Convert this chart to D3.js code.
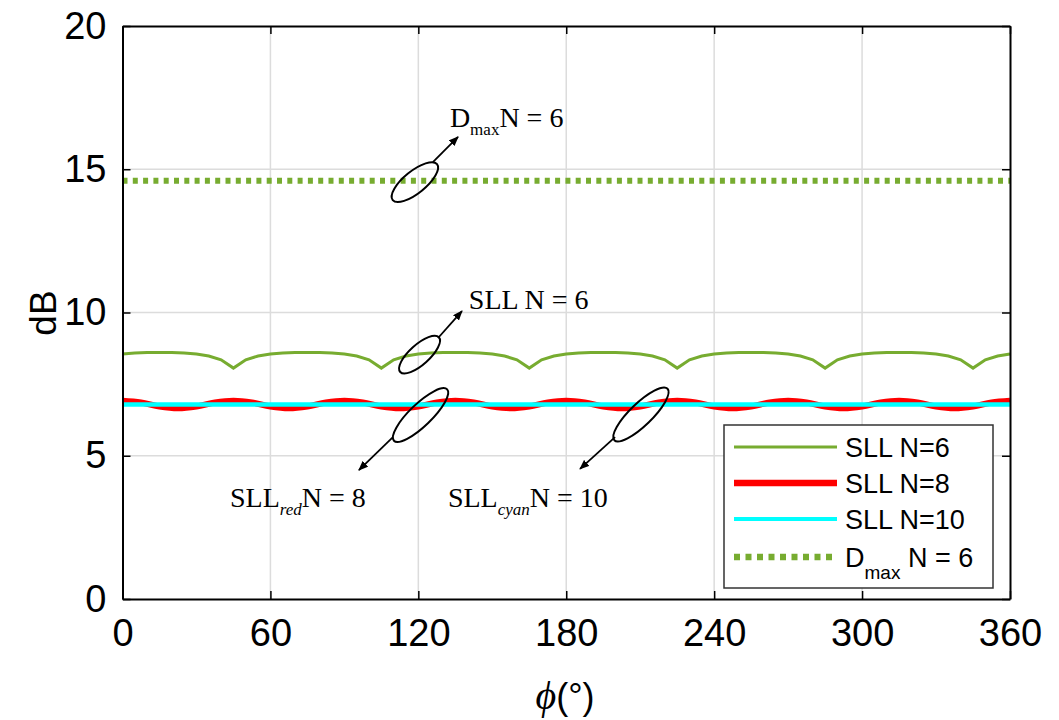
<!DOCTYPE html>
<html>
<head>
<meta charset="utf-8">
<script src="https://cdn.jsdelivr.net/npm/d3@7"></script>
<style>
  body { margin: 0; background: #fff; }
  svg { display: block; }
</style>
</head>
<body>
<script>
const phi = [0,5,10,15,20,25,30,35,40,45,50,55,60,65,70,75,80,85,90,95,100,105,110,115,120,125,130,135,140,145,150,155,160,165,170,175,180,185,190,195,200,205,210,215,220,225,230,235,240,245,250,255,260,265,270,275,280,285,290,295,300,305,310,315,320,325,330,335,340,345,350,355,360]
const sllN6 = [8.55,8.59,8.60,8.60,8.60,8.59,8.55,8.48,8.35,8.06,
  8.35,8.48,8.55,8.59,8.60,8.60,8.60,8.59,8.55,8.48,8.35,8.06,
  8.35,8.48,8.55,8.59,8.60,8.60,8.60,8.59,8.55,8.48,8.35,8.06,
  8.35,8.48,8.55,8.59,8.60,8.60,8.60,8.59,8.55,8.48,8.35,8.06,
  8.35,8.48,8.55,8.59,8.60,8.60,8.60,8.59,8.55,8.48,8.35,8.06,
  8.35,8.48,8.55,8.59,8.60,8.60,8.60,8.59,8.55,8.48,8.35,8.06,
  8.35,8.48,8.55]
const phiN8 = [0,7.5,15,22.5,30,37.5,45,52.5,60,67.5,75,82.5,90,97.5,105,112.5,120,127.5,135,142.5,150,157.5,165,172.5,180,187.5,195,202.5,210,217.5,225,232.5,240,247.5,255,262.5,270,277.5,285,292.5,300,307.5,315,322.5,330,337.5,345,352.5,360]
const sllN8 = [6.92,6.86,6.72,6.66,6.72,6.86,
  6.92,6.86,6.72,6.66,6.72,6.86,
  6.92,6.86,6.72,6.66,6.72,6.86,
  6.92,6.86,6.72,6.66,6.72,6.86,
  6.92,6.86,6.72,6.66,6.72,6.86,
  6.92,6.86,6.72,6.66,6.72,6.86,
  6.92,6.86,6.72,6.66,6.72,6.86,
  6.92,6.86,6.72,6.66,6.72,6.86,
  6.92]
const phiFlat = [0,360]
const sllN10 = [6.79,6.79]
const dmaxN6 = [14.6,14.6]
const xTicks = [0,60,120,180,240,300,360]
const yTicks = [0,5,10,15,20]

const green = "#77ac30", red = "#ff0000", cyan = "#00ffff"

let w = 1059, h = 720
let mLeft = 122.5, mRight = 1010, mTop = 26, mBottom = 599
let svg = d3.select("body").append("svg").attr("width", w).attr("height", h)

let x = d3.scaleLinear().domain([0, 360]).range([mLeft, mRight])
let y = d3.scaleLinear().domain([0, 20]).range([mBottom, mTop])

// grid
svg.append("g").selectAll("line").data(xTicks.slice(1, -1)).enter().append("line")
  .attr("x1", d=>x(d)).attr("x2", d=>x(d)).attr("y1", mTop).attr("y2", mBottom)
  .attr("stroke", "#dcdcdc").attr("stroke-width", 1.5)
svg.append("g").selectAll("line").data(yTicks.slice(1, -1)).enter().append("line")
  .attr("y1", d=>y(d)).attr("y2", d=>y(d)).attr("x1", mLeft).attr("x2", mRight)
  .attr("stroke", "#dcdcdc").attr("stroke-width", 1.5)

// lines
let line = d3.line().x(d=>x(d[0])).y(d=>y(d[1]))
let zip = (a, b) => a.map((v, i) => [v, b[i]])
let plot = svg.append("g")
plot.append("path").attr("d", line(zip(phiFlat, dmaxN6)))
  .attr("fill", "none").attr("stroke", green).attr("stroke-width", 6).attr("stroke-dasharray", "5,5.3")
plot.append("path").attr("d", line(zip(phi, sllN6)))
  .attr("fill", "none").attr("stroke", green).attr("stroke-width", 3)
plot.append("path").attr("d", line.curve(d3.curveMonotoneX)(zip(phiN8, sllN8)))
  .attr("fill", "none").attr("stroke", red).attr("stroke-width", 6)
line.curve(d3.curveLinear)
plot.append("path").attr("d", line(zip(phiFlat, sllN10)))
  .attr("fill", "none").attr("stroke", cyan).attr("stroke-width", 4.5)

// box + inward ticks
let tl = 8
let xAxis = svg.append("g").attr("transform", "translate(0," + mBottom + ")")
  .call(d3.axisBottom(x).tickValues(xTicks).tickSizeInner(-tl).tickSizeOuter(0).tickPadding(20))
svg.append("g").attr("transform", "translate(0," + mTop + ")")
  .call(d3.axisTop(x).tickValues(xTicks).tickSizeInner(-tl).tickSizeOuter(0).tickFormat(""))
svg.append("g").attr("transform", "translate(" + mLeft + ",0)")
  .call(d3.axisLeft(y).tickValues(yTicks).tickSizeInner(-tl).tickSizeOuter(0).tickPadding(16))
svg.append("g").attr("transform", "translate(" + mRight + ",0)")
  .call(d3.axisRight(y).tickValues(yTicks).tickSizeInner(-tl).tickSizeOuter(0).tickFormat(""))
svg.selectAll(".domain").attr("stroke", "#000").attr("stroke-width", 2)
svg.selectAll(".tick line").attr("stroke", "#000").attr("stroke-width", 1.5)
svg.selectAll(".tick text").attr("font-family", "Liberation Sans, Arial, sans-serif")
  .attr("font-size", 38).attr("fill", "#000")
xAxis.selectAll(".tick text").attr("dy", "0.71em")

// axis labels
svg.append("text").attr("transform", "translate(56,313) rotate(-90)")
  .attr("text-anchor", "middle").attr("font-family", "Liberation Sans, Arial, sans-serif")
  .attr("font-size", 37).text("dB")
let xl = svg.append("text").attr("x", 565).attr("y", 709).attr("text-anchor", "middle")
  .attr("font-size", 36)
xl.append("tspan").attr("font-family", "Liberation Serif, serif").attr("font-style", "italic")
  .attr("font-size", 40).text("ϕ")
xl.append("tspan").attr("font-family", "Liberation Sans, Arial, sans-serif").text("(°)")

// annotations (data coordinates)
svg.append("defs").append("marker").attr("id", "arr")
  .attr("viewBox", "0 0 10 8").attr("refX", 9).attr("refY", 4)
  .attr("markerWidth", 10).attr("markerHeight", 8).attr("markerUnits", "userSpaceOnUse")
  .attr("orient", "auto")
  .append("path").attr("d", "M0,0L10,4L0,8Z").attr("fill", "#000")

const ellipses = [
  {c: [118.6, 14.55], rx: 28.5, ry: 11, a: -39},
  {c: [120.5, 8.53], rx: 26, ry: 10, a: -42},
  {c: [120.9, 6.42], rx: 37, ry: 11, a: -44},
  {c: [210.3, 6.44], rx: 37, ry: 11, a: -44}
]
const arrows = [
  [[125.9, 15.25], [136.1, 16.13]],
  [[128.0, 9.11], [137.7, 10.05]],
  [[109.7, 5.65], [95.9, 4.50]],
  [[199.8, 5.65], [185.6, 4.54]]
]
let ann = svg.append("g")
ann.selectAll("ellipse").data(ellipses).enter().append("ellipse")
  .attr("transform", d=>"translate(" + x(d.c[0]) + "," + y(d.c[1]) + ") rotate(" + d.a + ")")
  .attr("rx", d=>d.rx).attr("ry", d=>d.ry)
  .attr("fill", "none").attr("stroke", "#000").attr("stroke-width", 2)
ann.selectAll("line").data(arrows).enter().append("line")
  .attr("x1", d=>x(d[0][0])).attr("y1", d=>y(d[0][1]))
  .attr("x2", d=>x(d[1][0])).attr("y2", d=>y(d[1][1]))
  .attr("stroke", "#000").attr("stroke-width", 1.8).attr("marker-end", "url(#arr)")

const labels = [
  {p: [132.8, 16.47], main: "D", sub: "max", subItalic: false, rest: "N = 6"},
  {p: [140.5, 10.12], main: "SLL N = 6", sub: null, rest: ""},
  {p: [43.6, 3.21], main: "SLL", sub: "red", subItalic: true, rest: "N = 8"},
  {p: [132.0, 3.21], main: "SLL", sub: "cyan", subItalic: true, rest: "N = 10"}
]
labels.forEach(l=>{
  let t = ann.append("text").attr("x", x(l.p[0])).attr("y", y(l.p[1]))
    .attr("font-family", "Liberation Serif, Times New Roman, serif").attr("font-size", 28).attr("fill", "#000")
  t.append("tspan").text(l.main)
  if (l.sub) {
    t.append("tspan").attr("dy", 8).attr("font-size", 17)
      .attr("font-style", l.subItalic ? "italic" : "normal").text(l.sub)
    t.append("tspan").attr("dy", -8).text(l.rest)
  }
})

// legend
let lg = svg.append("g").attr("transform", "translate(724,425)")
lg.append("rect").attr("width", 269).attr("height", 163)
  .attr("fill", "#fff").attr("stroke", "#333").attr("stroke-width", 1.5)
const legendItems = [
  {name: "SLL N=6", color: green, width: 3, dash: null},
  {name: "SLL N=8", color: red, width: 6.5, dash: null},
  {name: "SLL N=10", color: cyan, width: 4, dash: null},
  {name: "D", sub: "max", rest: " N = 6", color: green, width: 6.5, dash: "6,5.5"}
]
let row = lg.selectAll("g.item").data(legendItems).enter().append("g")
  .attr("transform", (d, i)=>"translate(0," + (22 + i * 36 + (i == 3 ? 2 : 0)) + ")")
row.append("line").attr("x1", 10).attr("x2", 113)
  .attr("stroke", d=>d.color).attr("stroke-width", d=>d.width)
  .attr("stroke-dasharray", d=>d.dash)
let lt = row.append("text").attr("x", 121).attr("y", 9.5)
  .attr("font-family", "Liberation Sans, Arial, sans-serif").attr("font-size", 27).attr("fill", "#000")
lt.append("tspan").text(d=>d.name)
lt.filter(d=>d.sub).append("tspan").attr("dy", 12).attr("font-size", 19).text(d=>d.sub)
lt.filter(d=>d.sub).append("tspan").attr("dy", -12).text(d=>d.rest)
</script>
</body>
</html>
